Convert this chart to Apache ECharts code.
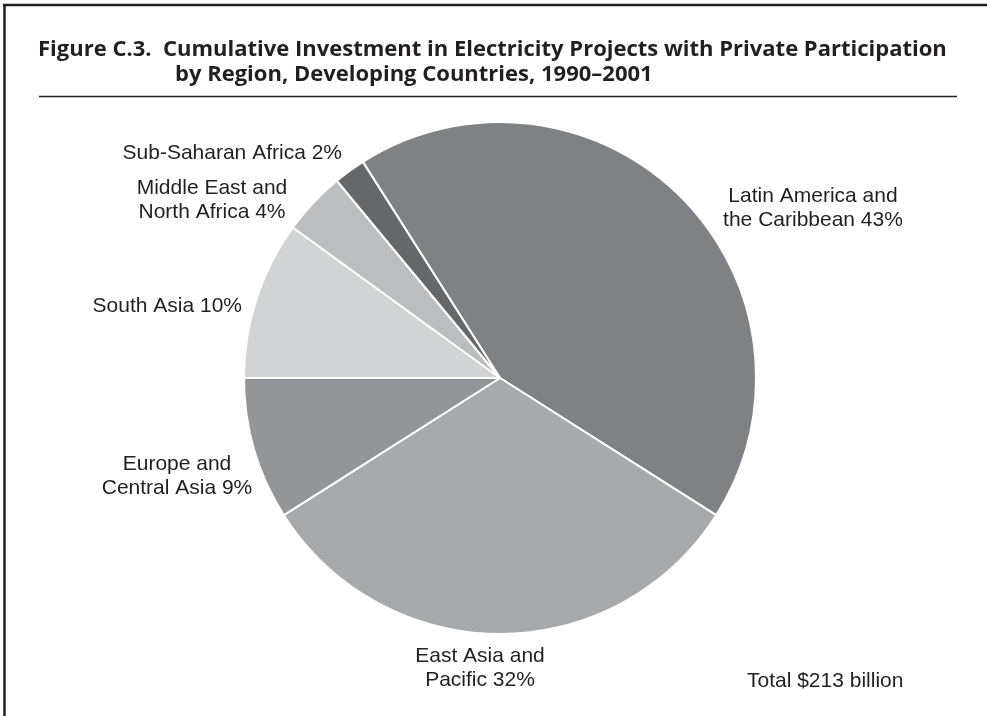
<!DOCTYPE html>
<html>
<head>
<meta charset="utf-8">
<script src="https://cdn.jsdelivr.net/npm/echarts@6/dist/echarts.min.js"></script>
<style>
html,body{margin:0;padding:0;background:#fff;}
#chart{width:987px;height:716px;}
</style>
</head>
<body>
<div id="chart"></div>
<script>
const regions = ['Latin America and the Caribbean', 'East Asia and Pacific', 'Europe and Central Asia', 'South Asia', 'Middle East and North Africa', 'Sub-Saharan Africa'];
const shares = [43, 32, 9, 10, 4, 2];
const labelTexts = ['Latin America and\nthe Caribbean 43%', 'East Asia and\nPacific 32%', 'Europe and\nCentral Asia 9%', 'South Asia 10%', 'Middle East and\nNorth Africa 4%', 'Sub-Saharan Africa 2%'];
const sliceColors = ['#808184', '#a7a9ac', '#939598', '#d1d3d4', '#bcbdc0', '#66676a'];
const titleLine1 = 'Figure C.3.  Cumulative Investment in Electricity Projects with Private Participation';
const titleLine2 = 'by Region, Developing Countries, 1990\u20132001';
const totalNote = 'Total $213 billion';

// label anchor positions (layout only)
const labelPos = [
  {x: 813, y: 208, align: 'center'},
  {x: 480, y: 668, align: 'center'},
  {x: 177, y: 476, align: 'center'},
  {x: 242, y: 306, align: 'right'},
  {x: 212, y: 200, align: 'center'},
  {x: 342, y: 153, align: 'right'}
];

const chart = echarts.init(document.getElementById('chart'), null, {renderer: 'canvas'});
const ink = '#231f20';
chart.setOption({
  backgroundColor: '#ffffff',
  animation: false,
  graphic: [
    {type: 'line', shape: {x1: 3, y1: 5, x2: 987, y2: 5}, style: {stroke: ink, lineWidth: 2.5}},
    {type: 'line', shape: {x1: 4.5, y1: 4, x2: 4.5, y2: 716}, style: {stroke: ink, lineWidth: 2.5}},
    {type: 'line', shape: {x1: 39, y1: 96.5, x2: 957, y2: 96.5}, style: {stroke: ink, lineWidth: 1.5}},
    {type: 'text', left: 38, top: 39, style: {text: titleLine1, font: 'bold 22px "Open Sans"', fill: ink}},
    {type: 'text', left: 175, top: 64, style: {text: titleLine2, font: 'bold 22px "Open Sans"', fill: ink}},
    {type: 'text', left: 747, top: 671, style: {text: totalNote, font: '21px "Liberation Sans"', fill: ink}}
  ],
  series: [{
    type: 'pie',
    center: [500, 378],
    radius: 256,
    startAngle: 122.4,
    clockwise: true,
    avoidLabelOverlap: false,
    itemStyle: {borderColor: '#ffffff', borderWidth: 2},
    label: {
      show: true,
      position: 'outside',
      formatter: p => labelTexts[p.dataIndex],
      fontFamily: 'Liberation Sans',
      fontSize: 21,
      lineHeight: 24,
      color: ink
    },
    labelLine: {show: false},
    labelLayout: p => {
      const q = labelPos[p.dataIndex];
      return {x: q.x, y: q.y, align: q.align, verticalAlign: 'middle'};
    },
    emphasis: {disabled: true},
    data: regions.map((r, i) => ({name: r, value: shares[i], itemStyle: {color: sliceColors[i]}}))
  }]
});
</script>
</body>
</html>
